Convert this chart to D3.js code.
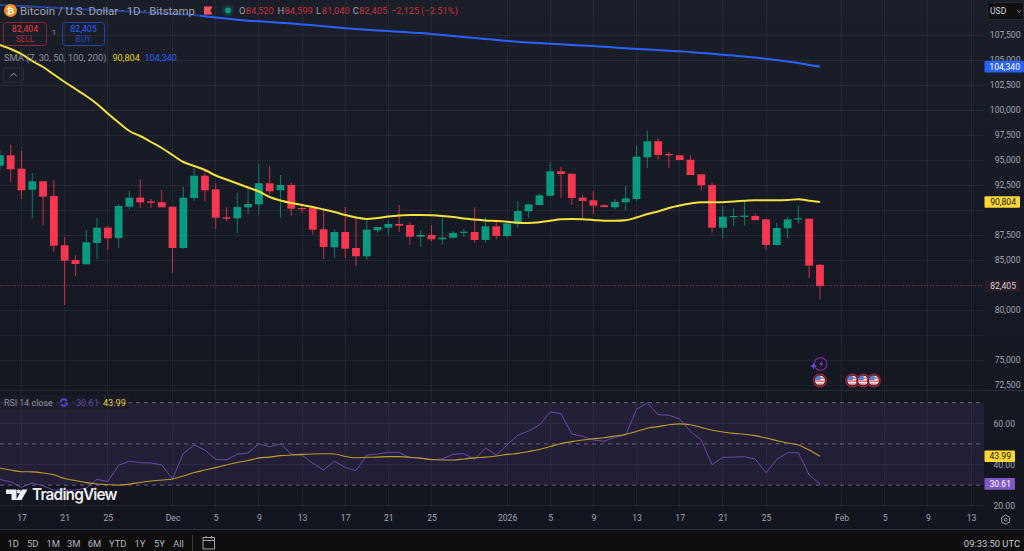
<!DOCTYPE html>
<html>
<head>
<meta charset="utf-8">
<script src="https://cdn.jsdelivr.net/npm/d3@7"></script>
<style>
html,body{margin:0;padding:0;background:#0f0f0f;overflow:hidden}
svg{display:block;font-family:Roboto,"Liberation Sans",sans-serif}
</style>
</head>
<body>
<svg id="chart" width="1024" height="551"></svg>
<script>
// Daily BTC/USD candles from 15 Nov 2025 to 30 Jan 2026 (77 days per list)
const opens = [94430,95470,94130,92030,92870,91400,86470,85000,84570,86700,88230,87200,90330,91230,90870,90770,90330,86200,91200,93430,92070,89270,89170,90270,90570,92670,91970,92500,90200,90230,88070,86270,87800,86200,85370,87970,88230,88600,88500,87330,87500,87070,87230,87770,87800,87000,88370,87400,88630,89870,90500,91430,93870,93630,91230,90970,90470,90270,90770,91100,95270,96870,95600,95470,95030,93570,92500,88230,89330,89330,89400,89070,86500,88170,89070,89130,84520];
const closes = [95470,94070,91970,92870,91330,86430,84930,84600,86770,88230,87170,90400,91230,90770,90730,90270,86200,91230,93430,91970,89230,89130,90300,90600,92670,91870,92500,90130,90130,88030,86300,87800,86130,85370,88030,88300,88600,88430,87330,87500,87070,87230,87700,87830,87000,88370,87400,88650,89900,90570,91470,93870,93600,91200,90900,90430,90300,90800,91170,95330,96870,95500,95470,95000,93500,92470,88230,89330,89400,89430,89000,86500,88200,89070,89170,84430,82405];
const highs = [95900,96530,95900,93700,92900,93000,87300,85470,88000,89200,88400,90600,91900,93070,91100,91970,90330,92300,94170,94070,92670,90270,91730,92130,94650,94400,93500,92730,90570,90230,90000,88070,90300,89400,89200,88300,88930,90500,88800,88000,88470,89470,87870,88100,90270,89270,89070,88800,90900,90570,91670,94800,94330,93630,91530,91900,90600,91070,92400,96470,97930,97170,95800,95470,95470,93570,92730,90400,90200,91000,89670,89070,88730,89330,90400,89130,84599];
const lows = [94000,92830,91100,89170,88430,85830,80500,83400,84570,85100,86000,86230,90070,90200,90200,90270,83730,86130,90930,90830,88100,88870,87700,89570,89530,91600,89230,89430,89730,87530,85100,85230,85200,84370,85030,87730,87530,87800,86530,86330,86870,86530,87170,87300,86730,86730,87070,87270,88230,89230,90500,91430,91230,90500,89170,89570,90270,90070,90000,90930,94230,95070,94200,95000,93500,91930,87730,87200,88400,88430,89000,86000,86470,87200,88630,83200,81040];
const sma50 = [106500,106100,105600,104900,104300,103550,102800,102100,101400,100600,99650,98750,97900,97400,96800,96200,95500,94800,94400,94000,93450,93050,92650,92250,91850,91300,90950,90700,90500,90300,90050,89800,89500,89250,89100,89200,89350,89450,89500,89500,89470,89400,89300,89150,89050,88950,88900,88830,88730,88700,88770,88920,89070,89100,89070,89000,88920,88920,88970,89250,89600,89850,90200,90450,90650,90770,90780,90780,90850,90920,90980,90970,90970,91000,91080,90920,90804];
const sma200 = [110500,110450,110390,110340,110280,110230,110170,110120,110060,110010,109950,109900,109840,109790,109730,109680,109620,109560,109490,109370,109250,109140,109020,108930,108870,108800,108730,108660,108560,108470,108370,108270,108180,108090,108020,107960,107890,107830,107760,107700,107610,107510,107410,107310,107210,107110,107010,106910,106820,106760,106690,106630,106570,106510,106450,106390,106320,106250,106170,106100,106040,105990,105930,105870,105790,105710,105620,105530,105440,105350,105240,105120,105000,104850,104700,104500,104340];
const rsi = [32.8,31.5,28.9,31.0,29.6,27.6,27.6,27.6,28.6,32.8,31.7,39.6,41.6,40.9,40.7,39.8,33.1,45.4,49.5,47.0,42.5,42.2,45.0,45.6,50.1,48.6,50.0,45.1,44.5,40.6,37.3,41.6,38.6,37.0,44.6,45.1,45.9,45.9,43.3,43.3,42.2,42.7,45.0,45.2,42.5,48.0,44.6,49.5,54.2,56.3,59.2,65.5,64.7,54.8,53.7,51.9,51.3,53.2,54.3,66.8,69.9,64.2,63.9,62.1,56.1,51.9,39.9,43.5,43.6,43.8,42.7,36.0,42.5,45.7,45.7,34.9,30.61];
const rsiMa = [38.3,37.3,36.5,36.4,35.9,35.0,33.2,32.2,31.2,30.5,30.2,30.0,30.5,31.3,32.0,32.5,33.0,34.4,36.1,37.3,38.5,39.8,41.0,41.9,43.2,43.6,44.3,44.6,44.9,45.1,45.2,45.1,43.9,43.3,43.5,43.6,43.8,43.8,43.5,43.0,42.4,42.2,42.2,42.7,43.2,43.6,44.1,44.9,45.4,46.3,47.3,48.7,50.2,51.1,51.9,52.5,53.0,53.8,54.7,56.0,57.6,58.4,59.3,59.7,59.3,58.0,56.6,55.8,55.1,54.7,54.0,52.9,51.6,50.4,49.5,47.0,43.99];

const priceTicks = [72500,75000,77500,80000,82500,85000,87500,90000,92500,95000,97500,100000,102500,105000,107500];
const priceLabelTicks = [72500,75000,80000,85000,87500,92500,95000,97500,100000,102500,105000,107500];
const rsiTicks = [20,40,60];
const rsiLevels = [30,50,70];
const timeTicks = [[2025,10,17,"17"],[2025,10,21,"21"],[2025,10,25,"25"],[2025,11,1,"Dec"],[2025,11,5,"5"],[2025,11,9,"9"],[2025,11,13,"13"],[2025,11,17,"17"],[2025,11,21,"21"],[2025,11,25,"25"],[2026,0,1,"2026"],[2026,0,5,"5"],[2026,0,9,"9"],[2026,0,13,"13"],[2026,0,17,"17"],[2026,0,21,"21"],[2026,0,25,"25"],[2026,1,1,"Feb"],[2026,1,5,"5"],[2026,1,9,"9"],[2026,1,13,"13"]];
const rangeButtons = [["1D",13.3],["5D",32.8],["1M",53.3],["3M",73.8],["6M",94.5],["YTD",117.7],["1Y",140],["5Y",159.5],["All",178.5]];
const eventDays = [[2026,0,30],[2026,1,2],[2026,1,3],[2026,1,4]];

const days = d3.utcDay.range(new Date(Date.UTC(2025,10,15)), new Date(Date.UTC(2026,0,31)));
const PANE_W = 984, PANE_BOTTOM = 510;

const x = d3.scaleUtc().domain([new Date(Date.UTC(2025,10,17)), new Date(Date.UTC(2026,0,25))]).range([21.5, 766]);
const y = d3.scaleLinear().domain([72500,107500]).range([385,35]);
const yR = d3.scaleLinear().domain([20,70]).range([505.7,402.7]);

const svg = d3.select("#chart");
const defs = svg.append("defs");
const grad = defs.append("linearGradient").attr("id","bg").attr("x1",0).attr("x2",0).attr("y1",0).attr("y2",1);
grad.append("stop").attr("offset",0).attr("stop-color","#1a1e29");
grad.append("stop").attr("offset",1).attr("stop-color","#12151e");
defs.append("clipPath").attr("id","main").append("rect").attr("width",PANE_W).attr("height",389.5);
defs.append("clipPath").attr("id","lower").append("rect").attr("y",391).attr("width",PANE_W).attr("height",120);

svg.append("rect").attr("width",1024).attr("height",529).attr("fill","url(#bg)");

// grid
const grid = svg.append("g").attr("stroke","#fff").attr("stroke-opacity",0.055).attr("shape-rendering","crispEdges");
grid.selectAll(".gx").data(timeTicks).join("line")
  .attr("x1",d=>x(new Date(Date.UTC(d[0],d[1],d[2])))).attr("x2",d=>x(new Date(Date.UTC(d[0],d[1],d[2]))))
  .attr("y1",0).attr("y2",PANE_BOTTOM);
grid.selectAll(".gy").data(priceTicks).join("line").attr("x1",0).attr("x2",PANE_W).attr("y1",d=>y(d)).attr("y2",d=>y(d));
grid.selectAll(".gr").data(rsiTicks).join("line").attr("x1",0).attr("x2",PANE_W).attr("y1",d=>yR(d)).attr("y2",d=>yR(d));

// candles
const main = svg.append("g").attr("clip-path","url(#main)");
const UP = "#089981", DOWN = "#f7374f";
const candles = days.map((d,i)=>({d,o:opens[i],c:closes[i],h:highs[i],l:lows[i]}));
const isUp = d=>d.c>=d.o;
main.selectAll(".wick").data(candles).join("line")
  .attr("x1",d=>x(d.d)).attr("x2",d=>x(d.d)).attr("y1",d=>y(d.h)).attr("y2",d=>y(d.l))
  .attr("stroke",d=>isUp(d)?UP:DOWN).attr("stroke-width",1).attr("stroke-opacity",0.8);
main.selectAll(".body").data(candles).join("rect")
  .attr("x",d=>x(d.d)-3.9).attr("width",7.8)
  .attr("y",d=>y(Math.max(d.o,d.c))).attr("height",d=>Math.max(1.2,Math.abs(y(d.o)-y(d.c))))
  .attr("fill",d=>isUp(d)?UP:DOWN);

// last-price line
main.append("line").attr("x1",0).attr("x2",PANE_W).attr("y1",y(82405)).attr("y2",y(82405))
  .attr("stroke",DOWN).attr("stroke-opacity",0.55).attr("stroke-dasharray","1 2");

// moving averages
const line = yy=>d3.line().x((v,i)=>x(days[i])).y(v=>yy(v)).curve(d3.curveMonotoneX);
main.append("path").attr("d",line(y)(sma50)).attr("fill","none").attr("stroke","#f5e13c").attr("stroke-width",2);
main.append("path").attr("d",line(y)(sma200)).attr("fill","none").attr("stroke","#2962ff").attr("stroke-width",2);

// lower pane
svg.append("rect").attr("x",0).attr("width",PANE_W).attr("y",yR(70)).attr("height",yR(30)-yR(70)).attr("fill","#7e57c2").attr("fill-opacity",0.14);
svg.append("g").selectAll("line").data(rsiLevels).join("line")
  .attr("x1",0).attr("x2",PANE_W).attr("y1",d=>yR(d)).attr("y2",d=>yR(d))
  .attr("stroke","#8b8e99").attr("stroke-dasharray","4 4").attr("stroke-opacity",0.65);
const lower = svg.append("g").attr("clip-path","url(#lower)");
lower.append("path").attr("d",d3.line().x((v,i)=>x(days[i])).y(v=>yR(v))(rsi)).attr("fill","none").attr("stroke","#6a4aa8").attr("stroke-width",1);
lower.append("path").attr("d",line(yR)(rsiMa)).attr("fill","none").attr("stroke","#c09c28").attr("stroke-width",1.1);

// pane separator and footer
svg.append("line").attr("x1",0).attr("x2",1024).attr("y1",390.5).attr("y2",390.5).attr("stroke","#2a2e39");
svg.append("rect").attr("y",529).attr("width",1024).attr("height",22).attr("fill","#0e0e0e");
svg.append("line").attr("x1",0).attr("x2",1024).attr("y1",529.5).attr("y2",529.5).attr("stroke","#2a2e39");

// axes
const LABEL = "#a3a6af", AX_FS = 8.6;
const priceAxis = d3.axisRight(y).tickValues(priceLabelTicks).tickSize(0).tickPadding(0).tickFormat(d3.format(","));
const gP = svg.append("g").attr("transform","translate(1020.5,0)").call(priceAxis);
const rsiAxis = d3.axisRight(yR).tickValues(rsiTicks).tickSize(0).tickPadding(0).tickFormat(d3.format(".2f"));
const gR = svg.append("g").attr("transform","translate(1015,0)").call(rsiAxis);
const timeAxis = d3.axisBottom(x).tickValues(timeTicks.map(t=>new Date(Date.UTC(t[0],t[1],t[2])))).tickSize(0).tickPadding(0)
  .tickFormat((d,i)=>timeTicks[i][3]);
const gT = svg.append("g").attr("transform","translate(0,515)").call(timeAxis);
[gP,gR,gT].forEach(g=>{
  g.select(".domain").remove();
  g.selectAll("text").attr("fill",LABEL).attr("font-size",AX_FS).attr("font-family","Roboto,sans-serif");
});
gP.selectAll("text").attr("text-anchor","end");
gR.selectAll("text").attr("text-anchor","end");

function txt(s,px,py,fill,size,anchor,weight){
  return svg.append("text").text(s).attr("x",px).attr("y",py).attr("fill",fill).attr("font-size",size)
    .attr("text-anchor",anchor||"start").attr("dominant-baseline","central").attr("font-weight",weight||400);
}
function tag(py,w,fill,color,label){
  svg.append("rect").attr("x",984.5).attr("y",py-5.8).attr("width",w).attr("height",11.6).attr("rx",1).attr("fill",fill);
  txt(label,984.5+w-4,py,color,AX_FS,"end");
}
tag(y(104340),39.5,"#2962ff","#fff","104,340");
tag(y(90804),35.5,"#fdd835","#131722","90,804");
tag(y(82405),35.5,"#2a1c25","#d1d4dc","82,405");
tag(yR(43.99),30.5,"#fdd835","#131722","43.99");
tag(yR(30.61),30.5,"#7e57c2","#fff","30.61");

// currency button
svg.append("rect").attr("x",987.5).attr("y",2.5).attr("width",36).attr("height",17).attr("rx",2).attr("fill","#0f0f0f").attr("stroke","#26292f");
txt("USD",990,11,"#d1d4dc",8.6);
svg.append("path").attr("d","M1017.5 10.5l1.7 1.6 1.7-1.6").attr("fill","none").attr("stroke","#a3a6af");

// header strip sits over the long moving average
svg.append("rect").attr("width",200).attr("height",20).attr("fill","#1a1e29").attr("fill-opacity",0.45);
svg.append("circle").attr("cx",10.5).attr("cy",10.5).attr("r",6.5).attr("fill","#f7931a");
txt("₿",10.5,10.8,"#fff",9,"middle",700);
txt("Bitcoin / U.S. Dollar · 1D · Bitstamp",20,10.8,"#9ea1aa",11.4);
svg.append("path").attr("d","M204 6.5h8.5l-2.2 4 2.2 4H204z").attr("fill","#f7525f");
svg.append("circle").attr("cx",228).attr("cy",10.5).attr("r",6).attr("fill","#089981").attr("fill-opacity",0.2);
svg.append("circle").attr("cx",228).attr("cy",10.5).attr("r",3).attr("fill","#089981");
const DIM_RED = "#c9303f", GREY = "#9ea1aa";
[["O",239,GREY],["84,520",245.7,DIM_RED],["H",277.5,GREY],["84,599",284.5,DIM_RED],["L",316,GREY],["81,040",321.7,DIM_RED],["C",352.7,GREY],["82,405",359,DIM_RED],["−2,125",391,DIM_RED],["(−2.51%)",421,DIM_RED]]
  .forEach(t=>txt(t[0],t[1],10.8,t[2],9.4));

// sell / buy buttons
svg.append("rect").attr("x",3.5).attr("y",22.5).attr("width",43).attr("height",23).attr("rx",3).attr("fill","none").attr("stroke","#8f2431");
txt("82,404",25,29,"#f23645",8.8,"middle");
txt("SELL",25,38.8,"#b42834",8.2,"middle");
txt("1",54,33.3,"#9ea1aa",7,"middle");
svg.append("rect").attr("x",62.5).attr("y",22.5).attr("width",42).attr("height",23).attr("rx",3).attr("fill","none").attr("stroke","#1d47ad");
txt("82,405",83.5,29,"#2962ff",8.8,"middle");
txt("BUY",83.5,38.8,"#1d4cc2",8.2,"middle");

txt("SMA (7, 30, 50, 100, 200)",4,57.5,"#8f929b",9.3);
txt("90,804",112.5,57.5,"#e6cf2f",9.1);
txt("104,340",144.5,57.5,"#2962ff",9.1);
svg.append("rect").attr("x",3.5).attr("y",68).attr("width",20).attr("height",14).attr("rx",2).attr("fill","none").attr("stroke","#2a2e39");
svg.append("path").attr("d","M10.7 76l3-2.6 3 2.6").attr("fill","none").attr("stroke","#a3a6af");

// lower pane legend
svg.append("rect").attr("x",0).attr("y",395).attr("width",129).attr("height",15).attr("rx",2).attr("fill","#1a1d2a").attr("fill-opacity",0.6);
txt("RSI 14 close",4,402.5,"#8f929b",8.9);
svg.append("circle").attr("cx",64).attr("cy",402.5).attr("r",3.2).attr("fill","none").attr("stroke","#5f3fd6").attr("stroke-width",2).attr("stroke-dasharray","8 2");
txt("30.61",76,402.5,"#5e46a5",9.1);
txt("43.99",103,402.5,"#e6cf2f",9.1);

// watermark
svg.append("path").attr("d","M6 489.5h10.5V500h-5v-6H6zM22 489.5h5.5L21.5 500H16z").attr("fill","#eceef2");
svg.append("circle").attr("cx",18.8).attr("cy",491.6).attr("r",2).attr("fill","#eceef2");
svg.append("text").text("TradingView").attr("x",32).attr("y",500).attr("fill","#eceef2").attr("font-size",15.4).attr("font-weight",600).attr("font-family","Inter,sans-serif").attr("textLength",85.5);

// economic event markers
const EVENT_Y = 380.5;
const eventX = eventDays.map(d=>x(new Date(Date.UTC(d[0],d[1],d[2]))));
eventX.forEach((ex,i)=>{
  defs.append("clipPath").attr("id","flag"+i).append("circle").attr("cx",ex).attr("cy",EVENT_Y).attr("r",5);
  const g = svg.append("g");
  g.append("circle").attr("cx",ex).attr("cy",EVENT_Y).attr("r",6.4).attr("fill","#151924").attr("stroke","#9e2434").attr("stroke-width",1.3);
  const f = g.append("g").attr("clip-path",`url(#flag${i})`);
  f.append("rect").attr("x",ex-5).attr("y",EVENT_Y-5).attr("width",10).attr("height",10).attr("fill","#eef0f4");
  [-3,0,3].forEach(o=>f.append("rect").attr("x",ex-5).attr("y",EVENT_Y+o).attr("width",10).attr("height",1.4).attr("fill","#e35d6a"));
  f.append("rect").attr("x",ex-5).attr("y",EVENT_Y-5).attr("width",5.5).attr("height",4.6).attr("fill","#4f7fd6");
});
svg.append("circle").attr("cx",820.6).attr("cy",364).attr("r",6.3).attr("fill","#151924").attr("stroke","#7a2c9e").attr("stroke-width",1.2);
svg.append("path").attr("d","M822.5 360l-3.3 4.5h2l-1.5 3.6 3.5-4.8h-2z").attr("fill","#9c3cc4");
svg.append("path").attr("d","M813.5 362.5l1 2.5 2.5 1-2.5 1-1 2.5-1-2.5-2.5-1 2.5-1z").attr("fill","#6a45e6");

// settings glyph
svg.append("path").attr("d","M1005.7 515l4 2.3v4.6l-4 2.3-4-2.3v-4.6z").attr("fill","none").attr("stroke","#9ea1aa");
svg.append("circle").attr("cx",1005.7).attr("cy",519.6).attr("r",1.4).attr("fill","none").attr("stroke","#9ea1aa");

// range buttons and clock
rangeButtons.forEach(b=>txt(b[0],b[1],543.5,"#b2b5be",9.4,"middle"));
svg.append("line").attr("x1",192.5).attr("x2",192.5).attr("y1",535).attr("y2",551).attr("stroke","#3a3d45");
svg.append("path").attr("d","M203 540.5h11.5v8.5h-11.5zM203 540.5v-3h11.5v3M206 536v2.5M211.5 536v2.5").attr("fill","none").attr("stroke","#b2b5be").attr("stroke-width",0.9);
txt("09:33:50 UTC",1020,543.5,"#c8cad0",9.4,"end");
</script>
</body>
</html>
